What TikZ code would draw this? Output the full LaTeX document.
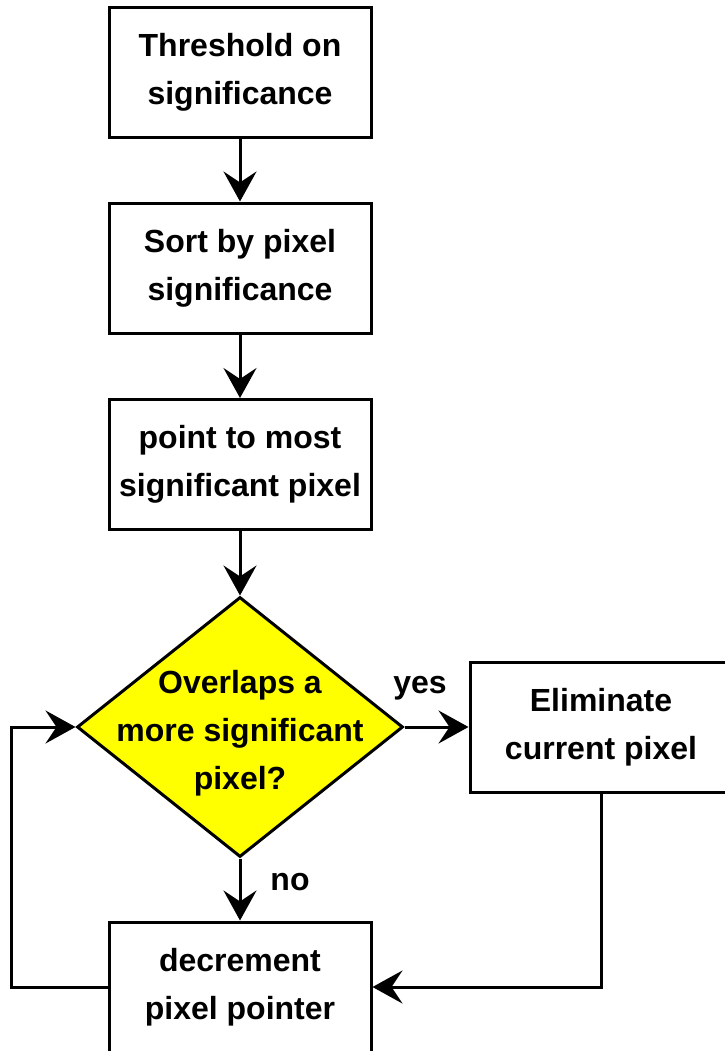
\documentclass[tikz,border=0pt]{standalone}
\usepackage{fontspec}
\setmainfont{Liberation Sans}
\usetikzlibrary{arrows.meta,shapes.geometric}
\definecolor{dyellow}{RGB}{255,255,0}
\begin{document}
\begin{tikzpicture}[x=1pt,y=-1pt,line width=3pt,
  txt/.style={font=\fontsize{32}{48}\selectfont\bfseries},
  box/.style={draw, txt, line width=3pt, minimum width=262pt, minimum height=130pt, inner sep=0pt, align=center},
  arr/.style={-{Stealth[length=30pt,width=33pt,inset=11pt]}},
  lbl/.style={txt, inner sep=0pt, align=center}]
\useasboundingbox (0,0) rectangle (724,1051);
\node[box] (b1) at (240,72.5) {Threshold on\\significance};
\node[box] (b2) at (240,268) {Sort by pixel\\significance};
\node[box] (b3) at (240,464.5) {point to most\\significant pixel};
\node[draw, diamond, fill=dyellow, minimum width=326pt, minimum height=260pt, inner sep=0pt, line width=3pt] (d) at (240,727) {};
\node[lbl] (dt) at (240,733) {Overlaps a\\more significant\\pixel?};
\node[box] (e) at (601,727) {Eliminate\\current pixel};
\node[box] (dec) at (240,987) {decrement\\pixel pointer};
\coordinate (lc) at (11,987);
\draw[arr] (b1) -- (b2);
\draw[arr] (b2) -- (b3);
\draw[arr] (b3) -- (d);
\draw[arr] (d) -- (e);
\draw[arr] (d) -- (dec);
\draw[arr] (dec.west) -- (lc) |- (d.west);
\draw[arr] (e.south) |- (dec.east);
\node[lbl] (yes) at (420,688) {yes};
\node[lbl] (no) at (290,882) {no};
\end{tikzpicture}
\end{document}
